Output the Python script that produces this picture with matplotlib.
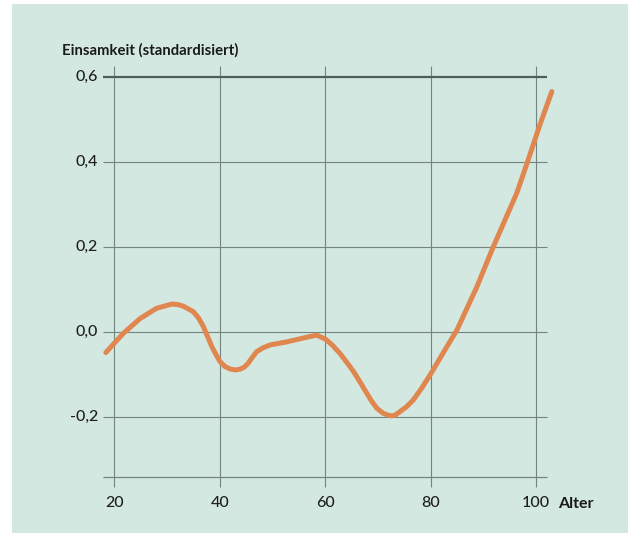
import matplotlib
matplotlib.use("Agg")
import matplotlib.pyplot as plt
from matplotlib.patches import Rectangle

# Data
age = [18.4, 20, 21.7, 24.9, 28, 30.9, 32.0, 33.1, 35, 36.0, 36.9, 38.5, 39.3, 40.1, 41.0,
       42, 43.0, 43.9, 44.7, 45.4, 46.2, 47, 48.2, 49.6, 52.7, 56.5, 58.4, 60.1, 61.4,
       62.8, 64.1, 65.4, 66.7, 67.9, 68.9, 69.8, 71.0, 72.3, 73.2, 74.2, 75.4, 76.7,
       78.3, 79.9, 83.1, 85, 88.8, 91.9, 96.35, 98.4, 100.6, 103]
loneliness = [-0.049, -0.027, -0.004, 0.031, 0.055, 0.065, 0.064, 0.060, 0.047, 0.032,
              0.012, -0.035, -0.054, -0.071, -0.082, -0.088, -0.090, -0.088, -0.083,
              -0.074, -0.060, -0.047, -0.038, -0.031, -0.024, -0.013, -0.008, -0.018,
              -0.032, -0.051, -0.072, -0.094, -0.120, -0.145, -0.165, -0.180, -0.192,
              -0.198, -0.197, -0.188, -0.177, -0.161, -0.133, -0.102, -0.035, 0.004,
              0.106, 0.2, 0.326, 0.4, 0.482, 0.565]
x_ticks = [20, 40, 60, 80, 100]
x_labels = ["20", "40", "60", "80", "100"]
y_ticks = [0.6, 0.4, 0.2, 0.0, -0.2]
y_labels = ["0,6", "0,4", "0,2", "0,0", "-0,2"]
y_bottom = -0.341

W, H = 630, 533
fig = plt.figure(figsize=(W / 100, H / 100), dpi=100)
fig.patch.set_facecolor("white")
bg = "#d4e8e2"
fig.patches.append(Rectangle((12 / W, 0), (628 - 12) / W, (533 - 4) / H,
                             transform=fig.transFigure, facecolor=bg, edgecolor="none", zorder=-5))

# axes: pixel mapping x: 20->114.3, 100->536 ; y: 0.6->76.7, 0.0->331.7
px_per_x = (536 - 114.3) / 80
px_per_y = 425.0
x0_px, x1_px = 60, 620
xmin = 20 + (x0_px - 114.3) / px_per_x
xmax = 20 + (x1_px - 114.3) / px_per_x
y_top_px, y_bot_px = 40, 500
ymax = (331.7 - y_top_px) / px_per_y
ymin = (331.7 - y_bot_px) / px_per_y
ax = fig.add_axes([x0_px / W, 1 - y_bot_px / H, (x1_px - x0_px) / W, (y_bot_px - y_top_px) / H])
ax.set_zorder(2)
ax.set_xlim(xmin, xmax)
ax.set_ylim(ymin, ymax)
ax.patch.set_alpha(0)
for s in ax.spines.values():
    s.set_visible(False)
ax.set_xticks([])
ax.set_yticks([])

grid_col = "#74847f"
hx0, hx1 = 17.86, 102.05
vy0, vy1 = -0.365, 0.625
for xv in x_ticks:
    ax.vlines(xv, vy0, vy1, colors=grid_col, lw=0.8, zorder=1)
for yv in y_ticks:
    if yv == 0.6:
        ax.hlines(yv, hx0, hx1, colors="#4f5f5b", lw=1.6, zorder=1)
    else:
        ax.hlines(yv, hx0, hx1, colors=grid_col, lw=0.8, zorder=1)
ax.hlines(y_bottom, hx0, hx1, colors=grid_col, lw=0.9, zorder=1)

ax.plot(age, loneliness, color="#e0864f", lw=3.6, solid_capstyle="round",
        solid_joinstyle="round", zorder=3)

font = "Lato"
tc = "#1e1e1e"
for yv, lab in zip(y_ticks, y_labels):
    ax.text(hx0 - 5 / px_per_x, yv, lab, ha="right", va="center", fontsize=11.5,
            family=font, fontweight="medium", color=tc)
for xv, lab in zip(x_ticks, x_labels):
    ax.text(xv, y_bottom - 26 / px_per_y, lab, ha="center", va="center", fontsize=11.5,
            family=font, fontweight="medium", color=tc)
fig.text(558 / W, 1 - 503.5 / H, "Alter", ha="left", va="center",
         fontsize=11.5, family=font, fontweight="bold", color="#1a1a1a")
fig.text(61.5 / W, 1 - 50 / H, "Einsamkeit (standardisiert)", ha="left", va="center",
         fontsize=10.7, family=font, fontweight="bold", color="#1a1a1a")

fig.savefig("out.png", dpi=100, facecolor=fig.get_facecolor())
